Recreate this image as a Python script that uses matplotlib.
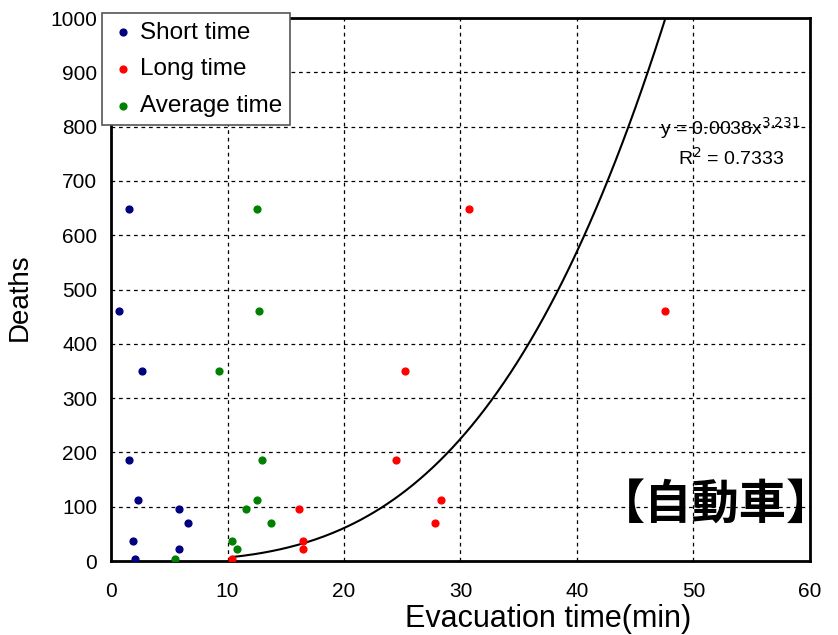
import numpy as np
import matplotlib.pyplot as plt

plt.rcParams['font.family'] = ['Liberation Sans', 'DejaVu Sans']

deaths = [648, 460, 350, 186, 112, 96, 70, 37, 22, 4]
short_x = [1.5, 0.7, 2.7, 1.5, 2.3, 5.8, 6.6, 1.9, 5.8, 2.1]
long_x = [30.7, 47.6, 25.2, 24.5, 28.3, 16.1, 27.8, 16.5, 16.5, 10.4]
avg_x = [12.5, 12.7, 9.3, 13.0, 12.5, 11.6, 13.7, 10.4, 10.8, 5.5]

coef, power = 0.0038, 3.231

fig = plt.figure(figsize=(8.38, 6.35), dpi=100)
ax = fig.add_axes([0.1325, 0.1165, 0.834, 0.855])

ax.scatter(short_x, deaths, color='#000080', s=24, label='Short time', zorder=3)
ax.scatter(long_x, deaths, color='#ff0000', s=24, label='Long time', zorder=3)
ax.scatter(avg_x, deaths, color='#008000', s=24, label='Average time', zorder=3)

x_end = (1000 / coef) ** (1 / power)
xs = np.linspace(10.4, x_end, 200)
ax.plot(xs, coef * xs ** power, color='black', lw=1.5, zorder=2)

ax.set_xlim(0, 60)
ax.set_ylim(0, 1000)
ax.set_xticks(range(0, 61, 10))
ax.set_yticks(range(0, 1001, 100))
ax.grid(True, color='black', linestyle=(0, (3, 3)), lw=0.9)
ax.tick_params(direction='in', length=0, labelsize=15)
ax.tick_params(axis='x', pad=15)
ax.tick_params(axis='y', pad=10)
for s in ax.spines.values():
    s.set_linewidth(2)

ax.set_xlabel('Evacuation time(min)', fontsize=22)
ax.xaxis.set_label_coords(0.625, -0.079)
ax.set_ylabel('Deaths', fontsize=20)
ax.yaxis.set_label_coords(-0.112, 0.486)

leg = ax.legend(loc='upper left', bbox_to_anchor=(-0.013, 1.009), fontsize=17.5,
                handletextpad=0.2, handlelength=1.0, borderpad=0.35,
                labelspacing=0.6, fancybox=False, framealpha=1,
                edgecolor='#555555', scatterpoints=1, borderaxespad=0)
leg.get_frame().set_linewidth(1.2)

ax.text(0.785, 0.797, r'y = 0.0038x$^{3.231}$', transform=ax.transAxes,
        fontsize=14, ha='left', va='center', clip_on=False)
ax.text(0.811, 0.742, r'R$^2$ = 0.7333', transform=ax.transAxes,
        fontsize=14, ha='left', va='center')

ax.text(1.035, 0.103, '【自動車】', transform=ax.transAxes, fontsize=34,
        fontweight='bold', ha='right', va='center',
        family=['Noto Sans CJK JP', 'DejaVu Sans'], zorder=5)

fig.savefig('out.png', dpi=100)
